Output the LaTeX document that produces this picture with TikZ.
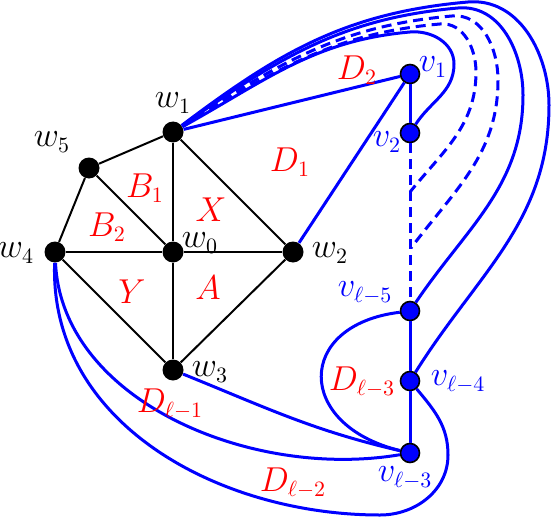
\documentclass[tikz,border=0pt]{standalone}
\usepackage{amsmath,amssymb}
\usepackage{xcolor}
\usepackage{tikz}

\begin{document}
\begin{tikzpicture}[x=0.5pt,y=0.5pt,
    bv/.style={circle,fill=black,inner sep=0pt,minimum size=10.5pt},
    uv/.style={circle,fill=blue,draw=black,line width=0.8pt,inner sep=0pt,minimum size=9.5pt},
    ed/.style={line width=1pt},
    be/.style={blue,line width=1.5pt},
    dl/.style={be,dash pattern=on 5pt off 3pt},
    kl/.style={font=\fontsize{16}{19}\selectfont,inner sep=0pt},
    rl/.style={kl,red},
    bl/.style={kl,blue}]
    \useasboundingbox (0,0) rectangle (551,-519);
    % vertices of the wheel
    \node[bv] (w1) at (173,-132) {};
    \node[bv] (w5) at (89,-168) {};
    \node[bv] (w0) at (173,-252) {};
    \node[bv] (w4) at (55,-252) {};
    \node[bv] (w2) at (293,-252) {};
    \node[bv] (w3) at (173,-370) {};
    % path vertices
    \node[uv] (v1) at (410,-74) {};
    \node[uv] (v2) at (410,-133) {};
    \node[uv] (vl5) at (410,-311) {};
    \node[uv] (vl4) at (410,-381) {};
    \node[uv] (vl3) at (410,-453) {};
    \coordinate (d1) at (410,-192);
    \coordinate (d2) at (411,-248);
    % black edges
    \draw[ed] (w1)--(w5); \draw[ed] (w5)--(w4); \draw[ed] (w4)--(w0); \draw[ed] (w0)--(w2);
    \draw[ed] (w1)--(w0); \draw[ed] (w0)--(w3); \draw[ed] (w1)--(w2); \draw[ed] (w2)--(w3);
    \draw[ed] (w4)--(w3); \draw[ed] (w5)--(w0);
    % blue edges
    \draw[be] (w1)--(v1); \draw[be] (v1)--(w2); \draw[be] (v1)--(v2);
    \draw[dl] (v2)--(vl5);
    \draw[be] (vl5)--(vl4); \draw[be] (vl4)--(vl3);
    \draw[be] (w1) to[out=29,in=185] (410,-32) to[out=5,in=90] (454,-64) to[out=-90,in=57] (v2);
    \draw[dl] (w1) to[out=31,in=185] (440,-24) to[out=5,in=90] (476,-72) to[out=-90,in=51] (d1);
    \draw[dl] (w1) to[out=33,in=185] (452,-16) to[out=5,in=90] (498,-80) to[out=-90,in=53] (d2);
    \draw[be] (w1) to[out=35,in=185] (458,-8) to[out=5,in=90] (523,-95) to[out=-90,in=56] (vl5);
    \draw[be] (w1) to[out=37,in=185] (468,-2) to[out=5,in=90] (549,-105) to[out=-90,in=58] (vl4);
    \draw[be] (w4) .. controls (62,-400) and (250,-480) .. (vl3);
    \draw[be] (w4) to[out=-92,in=180] (380,-515) to[out=0,in=-90] (448,-455) to[out=90,in=-50] (vl4);
    \draw[be] (w3) to[out=-22,in=167] (vl3);
    \draw[be] (vl5) .. controls (295,-325) and (295,-425) .. (vl3);
    % vertex labels
    \node[kl] (lw1) at (173,-103) {$w_1$};
    \node[kl] (lw5) at (52,-142) {$w_5$};
    \node[kl] (lw4) at (16,-253) {$w_4$};
    \node[kl] (lw0) at (200,-243) {$w_0$};
    \node[kl] (lw2) at (330,-253) {$w_2$};
    \node[kl] (lw3) at (210,-372) {$w_3$};
    \node[bl] (lv1) at (433,-67) {$v_1$};
    \node[bl] (lv2) at (387,-142) {$v_2$};
    \node[bl] (lvl5) at (365,-293) {$v_{\ell-5}$};
    \node[bl] (lvl4) at (458,-382) {$v_{\ell-4}$};
    \node[bl] (lvl3) at (405,-478) {$v_{\ell-3}$};
    % face labels
    \node[rl] (fB1) at (145,-188) {$B_1$};
    \node[rl] (fB2) at (107,-227) {$B_2$};
    \node[rl] (fX) at (211,-210) {$X$};
    \node[rl] (fY) at (132,-292) {$Y$};
    \node[rl] (fA) at (208,-288) {$A$};
    \node[rl] (fD1) at (290,-162) {$D_1$};
    \node[rl] (fD2) at (357,-70) {$D_2$};
    \node[rl] (fDl1) at (170,-404) {$D_{\ell-1}$};
    \node[rl] (fDl2) at (293,-483) {$D_{\ell-2}$};
    \node[rl] (fDl3) at (362,-382) {$D_{\ell-3}$};
  \end{tikzpicture}
\end{document}
